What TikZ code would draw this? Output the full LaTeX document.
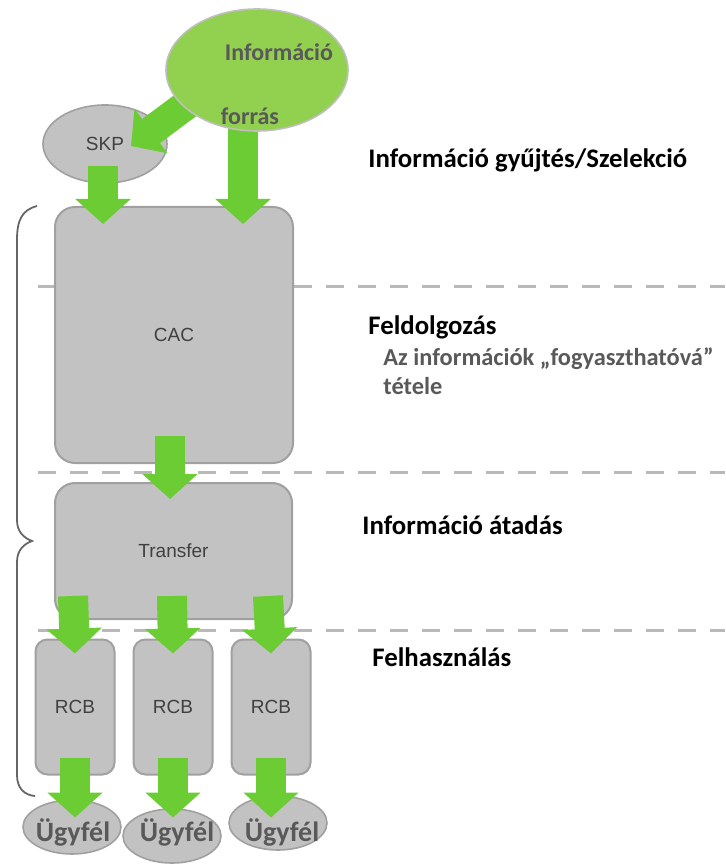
\documentclass[tikz,border=0pt]{standalone}
\usepackage{fontspec}
\setmainfont{Carlito}
\newfontfamily\boxfont{Liberation Sans}
\usetikzlibrary{shapes.geometric,arrows.meta,positioning}

\definecolor{srcgreen}{RGB}{146,208,80}
\definecolor{flowgreen}{RGB}{108,204,52}
\definecolor{boxgray}{RGB}{194,194,194}
\definecolor{boxedge}{RGB}{160,160,160}
\definecolor{labelgray}{RGB}{89,89,89}
\definecolor{dashgray}{RGB}{185,185,185}

\pgfdeclarelayer{back}
\pgfdeclarelayer{front}
\pgfsetlayers{back,main,front}

\tikzset{
	stage/.style={draw=boxedge, line width=1pt, fill=boxgray, rounded corners=10pt,
		font=\boxfont\fontsize{9.5}{11}\selectfont, text=black!75, inner sep=0pt},
	blob/.style={ellipse, draw=boxedge, line width=0.8pt, fill=boxgray, inner sep=0pt},
	client/.style={blob, minimum width=49pt, minimum height=27pt},
	clienttext/.style={font=\bfseries\fontsize{14}{16}\selectfont, text=labelgray, inner sep=0pt},
	flow/.style={draw=flowgreen, line width=15pt, -{Triangle[width=27pt,length=12.5pt]}},
	phase/.style={anchor=west, inner sep=0pt, font=\bfseries\fontsize{13.4}{16}\selectfont},
	phasenote/.style={anchor=west, inner sep=0pt, text=labelgray, align=left,
		font=\bfseries\fontsize{12.2}{14.5}\selectfont},
	sep/.style={draw=dashgray, line width=1.5pt, dash pattern=on 9pt off 7pt}
}

\begin{document}
\begin{tikzpicture}[x=0.5pt, y=-0.5pt]
	\useasboundingbox (0, 0) rectangle (725, 865);

	\begin{pgfonlayer}{back}
		% phase separators
		\foreach \y in {287, 472, 630}
			\draw[sep] (38, \y) -- (725, \y);
		% process stages
		\node (skp) [blob, minimum width=62pt, minimum height=39pt,
			font=\boxfont\fontsize{9.5}{11}\selectfont, text=black!75] at (105, 144) {SKP};
		\node (cac) [stage, minimum width=119pt, minimum height=128pt] at (174, 335) {CAC};
		\node (transfer) [stage, minimum width=118.5pt, minimum height=68pt] at (173.5, 551) {Transfer};
		\foreach \x/\n in {75/1, 173/2, 271/3}
			\node (rcb\n) [stage, rounded corners=6pt, minimum width=39.5pt, minimum height=67.5pt]
				at (\x, 707) {RCB};
		\foreach \x/\y/\lx/\n in {72/827/73/1, 172/836/177/2, 278/823/282/3}
		{
			\node (client\n) [client] at (\x, \y) {};
			\node (clientlabel\n) [clienttext] at (\lx, 832) {Ügyfél};
		}
	\end{pgfonlayer}

	\begin{pgfonlayer}{front}
		\node (source) [ellipse, draw=black!25, line width=0.8pt, fill=srcgreen,
			minimum width=91pt, minimum height=61pt] at (257, 70) {};
		\node (sourcetop) [font=\bfseries\fontsize{12}{14}\selectfont, text=labelgray] at (279, 52) {Információ};
		\node (sourcebottom) [font=\bfseries\fontsize{12}{14}\selectfont, text=labelgray] at (250, 116) {forrás};
	\end{pgfonlayer}

	% arrows
	\draw[flow] ([xshift=-24pt, yshift=-9pt]source.center) -- ([xshift=13pt, yshift=-1pt]skp.center);
	\draw[flow] ([xshift=-7pt, yshift=-22pt]source.center) -- ([xshift=34.5pt, yshift=-9pt]cac.north);
	\draw[flow] ([xshift=-1pt, yshift=-11pt]skp.center) -- ([xshift=-35.5pt, yshift=-9pt]cac.north);
	\draw[flow] ([xshift=-2pt, yshift=14pt]cac.south) -- ([xshift=-1.75pt, yshift=-8.5pt]transfer.north);
	\foreach \n/\dx in {1/-50.25, 2/-0.75, 3/47.25}
		\draw[flow] ([xshift=\dx pt, yshift=12pt]transfer.south) -- ([yshift=-7.5pt]rcb\n.north);
	\foreach \n in {1, 2, 3}
		\draw[flow] ([yshift=9pt]rcb\n.south) -- ([yshift=-21pt]rcb\n.south);

	% left brace
	\draw[black!60, line width=0.9pt] (37, 206) .. controls (22, 210) and (17, 220) .. (17, 240)
		-- (17, 520) .. controls (17, 532) and (24, 538) .. (32, 541)
		.. controls (24, 544) and (17, 550) .. (17, 562)
		-- (17, 775) .. controls (17, 788) and (24, 795) .. (35, 796);

	% phase labels
	\node (collect) [phase] at (368, 160) {Információ gyűjtés/Szelekció};
	\node (process) [phase] at (368, 327) {Feldolgozás};
	\node (processnote) [phasenote, anchor=north west] at (383, 347)
		{Az információk „fogyaszthatóvá”\\tétele};
	\node (deliver) [phase] at (362, 525) {Információ átadás};
	\node (use) [phase] at (372, 657) {Felhasználás};
\end{tikzpicture}
\end{document}
